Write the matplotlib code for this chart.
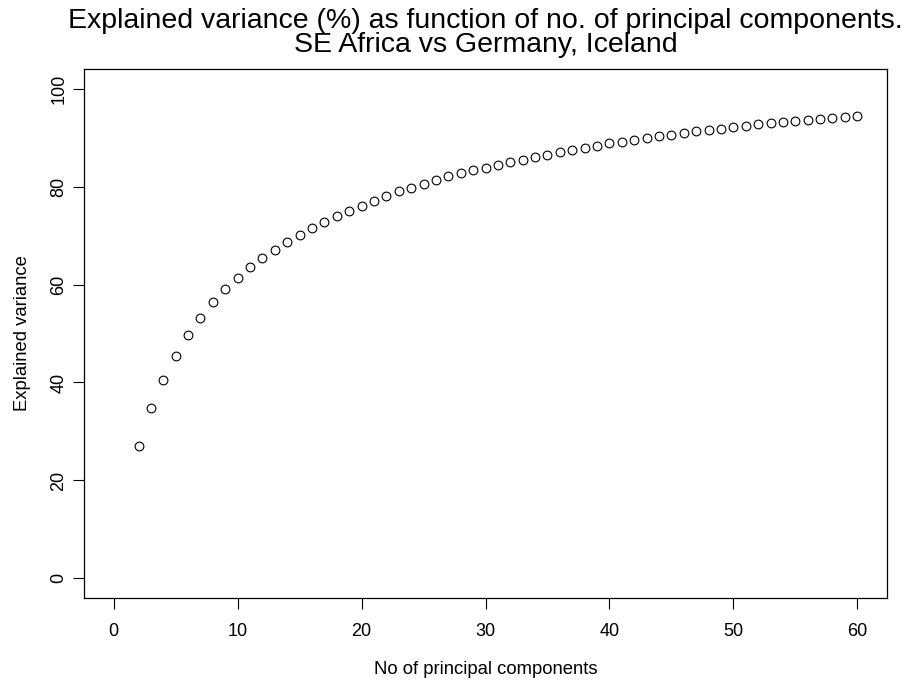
import numpy as np
import matplotlib.pyplot as plt

plt.rcParams['font.family'] = ['Liberation Sans', 'DejaVu Sans']

n_comp = list(range(2, 61))
expl_var = [27.1, 34.8, 40.6, 45.4, 49.6, 53.2, 56.4, 59.0, 61.4, 63.6,
            65.4, 67.1, 68.7, 70.1, 71.5, 72.8, 73.9, 75.0, 76.1, 77.1,
            78.1, 79.0, 79.8, 80.6, 81.3, 82.1, 82.7, 83.3, 83.8, 84.5,
            85.0, 85.5, 86.0, 86.5, 87.0, 87.4, 87.8, 88.3, 88.8, 89.1,
            89.5, 89.9, 90.3, 90.6, 90.9, 91.3, 91.5, 91.8, 92.1, 92.4,
            92.7, 92.9, 93.2, 93.4, 93.6, 93.8, 94.0, 94.2, 94.4]
xticks = [0, 10, 20, 30, 40, 50, 60]
yticks = [0, 20, 40, 60, 80, 100]

fig = plt.figure(figsize=(9.08, 6.81), dpi=100)
ax = fig.add_axes([84/908, 1-598/681, (887-84)/908, (598-69)/681])

ax.plot(n_comp, expl_var, 'o', mfc='none', mec='black', markersize=6.3, mew=0.8)

# R style: 4% padding around 0..60 / 0..100
ax.set_xlim(-2.4, 62.4)
ax.set_ylim(-4, 104)
ax.set_xticks(xticks)
ax.set_yticks(yticks)
ax.tick_params(direction='out', length=7.6, width=0.8, labelsize=13)
ax.tick_params(axis='x', pad=10.2)
ax.tick_params(axis='y', pad=4.5)
for lab in ax.get_yticklabels():
    lab.set_rotation(90)
    lab.set_va('center')
for s in ax.spines.values():
    s.set_linewidth(0.9)

ax.set_xlabel("No of principal components", fontsize=13.3, labelpad=15.5)
ax.set_ylabel("Explained variance", fontsize=13.3, labelpad=14)
ax.set_title("Explained variance (%) as function of no. of principal components.\nSE Africa vs Germany, Iceland",
             fontsize=20.5, linespacing=0.9, pad=12.5)

fig.savefig("out.png", dpi=100)
